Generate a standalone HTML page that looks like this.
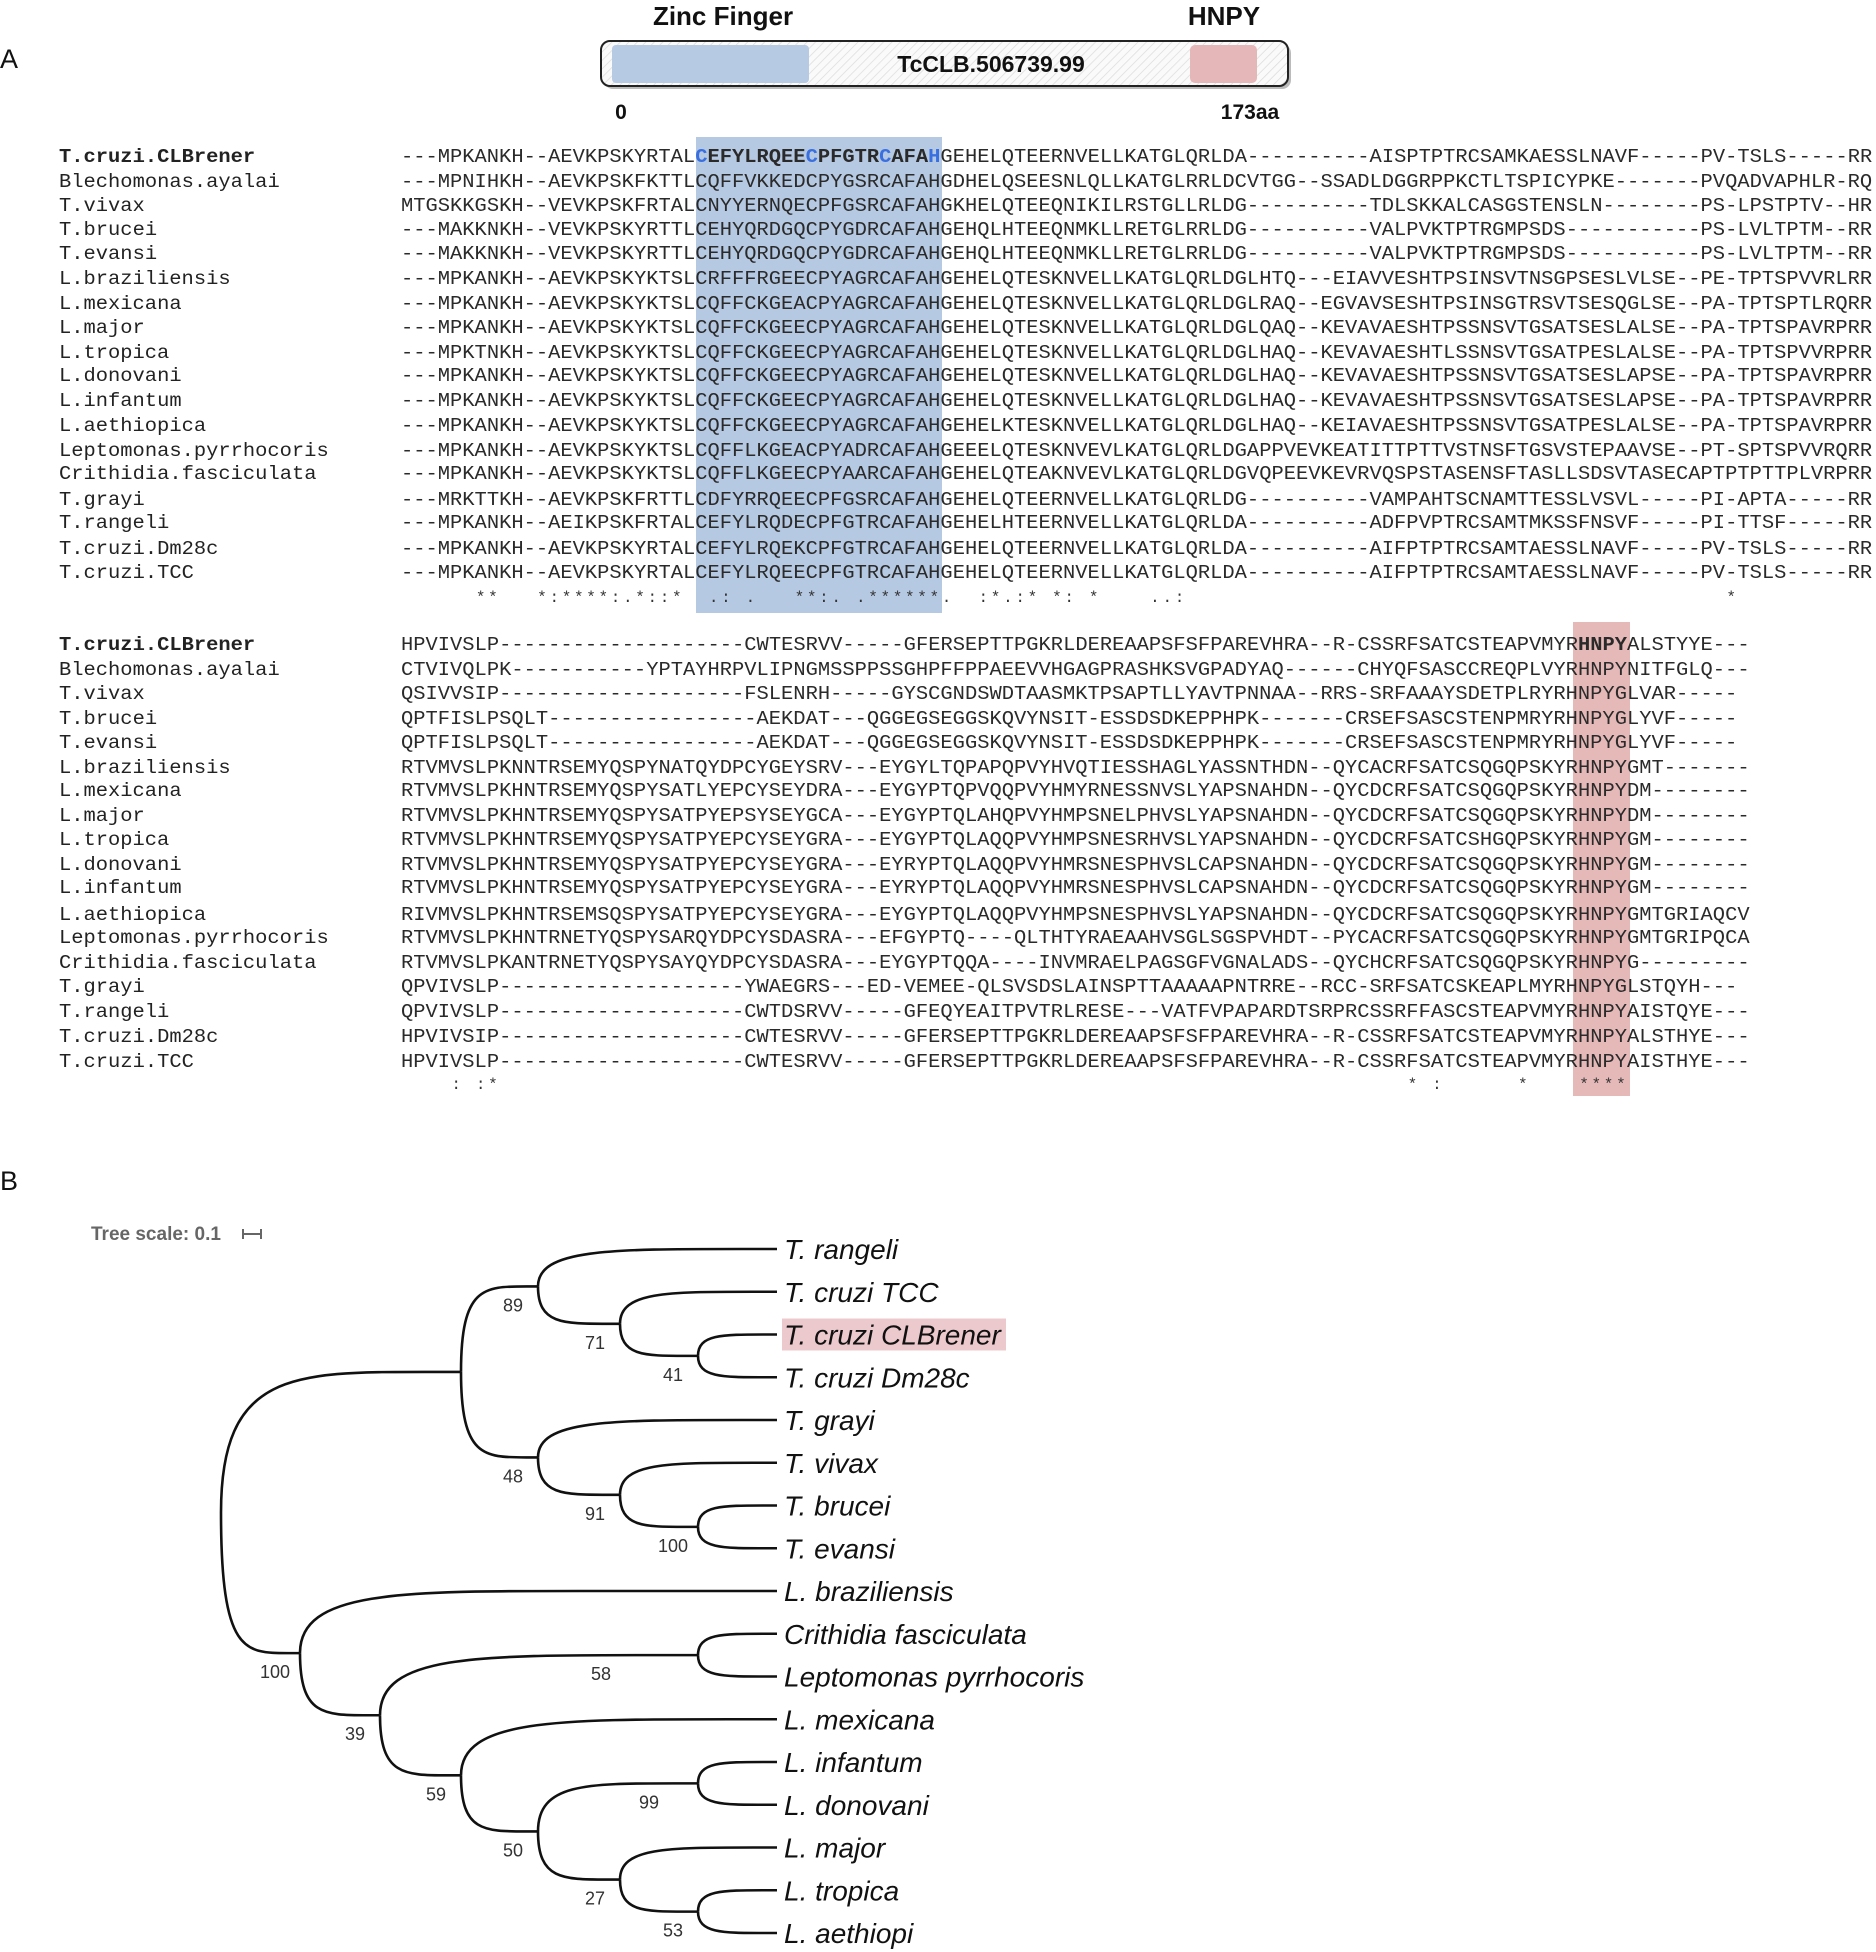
<!DOCTYPE html>
<html><head><meta charset="utf-8">
<style>
html,body{margin:0;padding:0;background:#fff;}
svg{display:block;}
.seq{font-family:"Liberation Mono",monospace;font-size:19px;fill:#2a2a2a;}
.nm{font-family:"Liberation Mono",monospace;font-size:19px;fill:#222;}
.leaf{font-family:"Liberation Sans",sans-serif;font-style:italic;font-size:28px;fill:#111;}
.bs{font-family:"Liberation Sans",sans-serif;font-size:18px;fill:#333;}
.cons{font-family:"Liberation Mono",monospace;font-size:16px;fill:#333;}
</style></head>
<body>
<svg id="fig" xmlns="http://www.w3.org/2000/svg" width="1876" height="1952" viewBox="0 0 1876 1952">
<defs>
<pattern id="hatch" width="6" height="6" patternUnits="userSpaceOnUse" patternTransform="rotate(45)">
<rect width="6" height="6" fill="#fafafa"/><line x1="0" y1="0" x2="0" y2="6" stroke="#dcdcdc" stroke-width="1.5"/>
</pattern>
</defs>
<text x="0" y="68" font-family="Liberation Sans, sans-serif" font-size="27" fill="#111">A</text>
<text x="0" y="1190" font-family="Liberation Sans, sans-serif" font-size="27" fill="#111">B</text>
<g>
<text x="723" y="25" text-anchor="middle" font-family="Liberation Sans, sans-serif" font-weight="bold" font-size="26" fill="#111">Zinc Finger</text>
<text x="1224" y="25" text-anchor="middle" font-family="Liberation Sans, sans-serif" font-weight="bold" font-size="26" fill="#111">HNPY</text>
<rect x="604" y="44" width="687" height="45" rx="9" fill="#bbb"/>
<rect x="601" y="41" width="687" height="45" rx="9" fill="url(#hatch)" stroke="#222" stroke-width="2"/>
<rect x="612" y="45" width="197" height="38" rx="4" fill="#b6cae3"/>
<rect x="1190" y="45" width="67" height="38" rx="5" fill="#e6b7b8"/>
<text x="991" y="72" text-anchor="middle" font-family="Liberation Sans, sans-serif" font-weight="bold" font-size="23" fill="#111">TcCLB.506739.99</text>
<text x="621" y="119" text-anchor="middle" font-family="Liberation Sans, sans-serif" font-weight="bold" font-size="21" fill="#111">0</text>
<text x="1250" y="119" text-anchor="middle" font-family="Liberation Sans, sans-serif" font-weight="bold" font-size="21" fill="#111">173aa</text>
</g>
<rect x="696" y="137" width="246" height="476" fill="#b6c9e2"/>
<rect x="1573" y="622" width="57" height="474" fill="#e6b9b9"/>
<g id="aln"></g>
<g id="tree"></g>
</svg>
<script>
const names = ["T.cruzi.CLBrener","Blechomonas.ayalai","T.vivax","T.brucei","T.evansi","L.braziliensis","L.mexicana","L.major","L.tropica","L.donovani","L.infantum","L.aethiopica","Leptomonas.pyrrhocoris","Crithidia.fasciculata","T.grayi","T.rangeli","T.cruzi.Dm28c","T.cruzi.TCC"];
const block1 = [
"---MPKANKH--AEVKPSKYRTALCEFYLRQEECPFGTRCAFAHGEHELQTEERNVELLKATGLQRLDA----------AISPTPTRCSAMKAESSLNAVF-----PV-TSLS-----RR",
"---MPNIHKH--AEVKPSKFKTTLCQFFVKKEDCPYGSRCAFAHGDHELQSEESNLQLLKATGLRRLDCVTGG--SSADLDGGRPPKCTLTSPICYPKE-------PVQADVAPHLR-RQ",
"MTGSKKGSKH--VEVKPSKFRTALCNYYERNQECPFGSRCAFAHGKHELQTEEQNIKILRSTGLLRLDG----------TDLSKKALCASGSTENSLN--------PS-LPSTPTV--HR",
"---MAKKNKH--VEVKPSKYRTTLCEHYQRDGQCPYGDRCAFAHGEHQLHTEEQNMKLLRETGLRRLDG----------VALPVKTPTRGMPSDS-----------PS-LVLTPTM--RR",
"---MAKKNKH--VEVKPSKYRTTLCEHYQRDGQCPYGDRCAFAHGEHQLHTEEQNMKLLRETGLRRLDG----------VALPVKTPTRGMPSDS-----------PS-LVLTPTM--RR",
"---MPKANKH--AEVKPSKYKTSLCRFFFRGEECPYAGRCAFAHGEHELQTESKNVELLKATGLQRLDGLHTQ---EIAVVESHTPSINSVTNSGPSESLVLSE--PE-TPTSPVVRLRR",
"---MPKANKH--AEVKPSKYKTSLCQFFCKGEACPYAGRCAFAHGEHELQTESKNVELLKATGLQRLDGLRAQ--EGVAVSESHTPSINSGTRSVTSESQGLSE--PA-TPTSPTLRQRR",
"---MPKANKH--AEVKPSKYKTSLCQFFCKGEECPYAGRCAFAHGEHELQTESKNVELLKATGLQRLDGLQAQ--KEVAVAESHTPSSNSVTGSATSESLALSE--PA-TPTSPAVRPRR",
"---MPKTNKH--AEVKPSKYKTSLCQFFCKGEECPYAGRCAFAHGEHELQTESKNVELLKATGLQRLDGLHAQ--KEVAVAESHTLSSNSVTGSATPESLALSE--PA-TPTSPVVRPRR",
"---MPKANKH--AEVKPSKYKTSLCQFFCKGEECPYAGRCAFAHGEHELQTESKNVELLKATGLQRLDGLHAQ--KEVAVAESHTPSSNSVTGSATSESLAPSE--PA-TPTSPAVRPRR",
"---MPKANKH--AEVKPSKYKTSLCQFFCKGEECPYAGRCAFAHGEHELQTESKNVELLKATGLQRLDGLHAQ--KEVAVAESHTPSSNSVTGSATSESLAPSE--PA-TPTSPAVRPRR",
"---MPKANKH--AEVKPSKYKTSLCQFFCKGEECPYAGRCAFAHGEHELKTESKNVELLKATGLQRLDGLHAQ--KEIAVAESHTPSSNSVTGSATPESLALSE--PA-TPTSPAVRPRR",
"---MPKANKH--AEVKPSKYKTSLCQFFLKGEACPYADRCAFAHGEEELQTESKNVEVLKATGLQRLDGAPPVEVKEATITTPTTVSTNSFTGSVSTEPAAVSE--PT-SPTSPVVRQRR",
"---MPKANKH--AEVKPSKYKTSLCQFFLKGEECPYAARCAFAHGEHELQTEAKNVEVLKATGLQRLDGVQPEEVKEVRVQSPSTASENSFTASLLSDSVTASECAPTPTPTTPLVRPRR",
"---MRKTTKH--AEVKPSKFRTTLCDFYRRQEECPFGSRCAFAHGEHELQTEERNVELLKATGLQRLDG----------VAMPAHTSCNAMTTESSLVSVL-----PI-APTA-----RR",
"---MPKANKH--AEIKPSKFRTALCEFYLRQDECPFGTRCAFAHGEHELHTEERNVELLKATGLQRLDA----------ADFPVPTRCSAMTMKSSFNSVF-----PI-TTSF-----RR",
"---MPKANKH--AEVKPSKYRTALCEFYLRQEKCPFGTRCAFAHGEHELQTEERNVELLKATGLQRLDA----------AIFPTPTRCSAMTAESSLNAVF-----PV-TSLS-----RR",
"---MPKANKH--AEVKPSKYRTALCEFYLRQEECPFGTRCAFAHGEHELQTEERNVELLKATGLQRLDA----------AIFPTPTRCSAMTAESSLNAVF-----PV-TSLS-----RR"];
const block2 = [
"HPVIVSLP--------------------CWTESRVV-----GFERSEPTTPGKRLDEREAAPSFSFPAREVHRA--R-CSSRFSATCSTEAPVMYRHNPYALSTYYE---",
"CTVIVQLPK-----------YPTAYHRPVLIPNGMSSPPSSGHPFFPPAEEVVHGAGPRASHKSVGPADYAQ------CHYQFSASCCREQPLVYRHNPYNITFGLQ---",
"QSIVVSIP--------------------FSLENRH-----GYSCGNDSWDTAASMKTPSAPTLLYAVTPNNAA--RRS-SRFAAAYSDETPLRYRHNPYGLVAR-----",
"QPTFISLPSQLT-----------------AEKDAT---QGGEGSEGGSKQVYNSIT-ESSDSDKEPPHPK-------CRSEFSASCSTENPMRYRHNPYGLYVF-----",
"QPTFISLPSQLT-----------------AEKDAT---QGGEGSEGGSKQVYNSIT-ESSDSDKEPPHPK-------CRSEFSASCSTENPMRYRHNPYGLYVF-----",
"RTVMVSLPKNNTRSEMYQSPYNATQYDPCYGEYSRV---EYGYLTQPAPQPVYHVQTIESSHAGLYASSNTHDN--QYCACRFSATCSQGQPSKYRHNPYGMT-------",
"RTVMVSLPKHNTRSEMYQSPYSATLYEPCYSEYDRA---EYGYPTQPVQQPVYHMYRNESSNVSLYAPSNAHDN--QYCDCRFSATCSQGQPSKYRHNPYDM--------",
"RTVMVSLPKHNTRSEMYQSPYSATPYEPSYSEYGCA---EYGYPTQLAHQPVYHMPSNELPHVSLYAPSNAHDN--QYCDCRFSATCSQGQPSKYRHNPYDM--------",
"RTVMVSLPKHNTRSEMYQSPYSATPYEPCYSEYGRA---EYGYPTQLAQQPVYHMPSNESRHVSLYAPSNAHDN--QYCDCRFSATCSHGQPSKYRHNPYGM--------",
"RTVMVSLPKHNTRSEMYQSPYSATPYEPCYSEYGRA---EYRYPTQLAQQPVYHMRSNESPHVSLCAPSNAHDN--QYCDCRFSATCSQGQPSKYRHNPYGM--------",
"RTVMVSLPKHNTRSEMYQSPYSATPYEPCYSEYGRA---EYRYPTQLAQQPVYHMRSNESPHVSLCAPSNAHDN--QYCDCRFSATCSQGQPSKYRHNPYGM--------",
"RIVMVSLPKHNTRSEMSQSPYSATPYEPCYSEYGRA---EYGYPTQLAQQPVYHMPSNESPHVSLYAPSNAHDN--QYCDCRFSATCSQGQPSKYRHNPYGMTGRIAQCV",
"RTVMVSLPKHNTRNETYQSPYSARQYDPCYSDASRA---EFGYPTQ----QLTHTYRAEAAHVSGLSGSPVHDT--PYCACRFSATCSQGQPSKYRHNPYGMTGRIPQCA",
"RTVMVSLPKANTRNETYQSPYSAYQYDPCYSDASRA---EYGYPTQQA----INVMRAELPAGSGFVGNALADS--QYCHCRFSATCSQGQPSKYRHNPYG---------",
"QPVIVSLP--------------------YWAEGRS---ED-VEMEE-QLSVSDSLAINSPTTAAAAAPNTRRE--RCC-SRFSATCSKEAPLMYRHNPYGLSTQYH---",
"QPVIVSLP--------------------CWTDSRVV-----GFEQYEAITPVTRLRESE---VATFVPAPARDTSRPRCSSRFFASCSTEAPVMYRHNPYAISTQYE---",
"HPVIVSIP--------------------CWTESRVV-----GFERSEPTTPGKRLDEREAAPSFSFPAREVHRA--R-CSSRFSATCSTEAPVMYRHNPYALSTHYE---",
"HPVIVSLP--------------------CWTESRVV-----GFERSEPTTPGKRLDEREAAPSFSFPAREVHRA--R-CSSRFSATCSTEAPVMYRHNPYAISTHYE---"];
const cons1 = "      **   *:****:.*::*  .: .   **:. .******.  :*.:* *: *    ..:                                            *";
const cons2 = "    : :*                                                                          * :      *    ****";
const rowY1 = [156,181,205,229,253,278,303,327,352,375,400,425,450,473,499,522,548,572];
const rowY2 = [644,669,693,718,742,767,790,815,839,864,887,914,937,962,986,1011,1036,1061];

const NS="http://www.w3.org/2000/svg";
const CW=12.26, X0=401, NX=59;
const aln=document.getElementById('aln');
function txt(parent,x,y,s,cls,extra){
  const t=document.createElementNS(NS,'text');
  t.setAttribute('x',x);t.setAttribute('y',y);
  if(cls)t.setAttribute('class',cls);
  if(extra)for(const k in extra)t.setAttribute(k,extra[k]);
  t.textContent=s;parent.appendChild(t);return t;
}
function seg(y,s,start,extra){
  return txt(aln,X0+start*CW,y,s,'seq',Object.assign({textLength:(s.length*CW).toFixed(1),lengthAdjust:'spacingAndGlyphs'},extra||{}));
}
function drawBlock(block,rowY,bi){
  block.forEach((s,i)=>{
    const y=rowY[i]+6;
    const n=txt(aln,NX,y,names[i],'nm',{textLength:(names[i].length*CW).toFixed(1),lengthAdjust:'spacingAndGlyphs'});
    if(i===0){n.setAttribute('font-weight','bold');n.setAttribute('font-family','Liberation Sans, sans-serif');}
    
    
    if(i===0 && bi===1){
      seg(y,s.slice(0,24),0);
      const t=seg(y,'',24,{'font-family':'Liberation Sans, sans-serif','font-weight':'bold','font-size':'18','textLength':(20*CW).toFixed(1)});
      for(const ch of s.slice(24,44)){const sp=document.createElementNS(NS,'tspan');sp.textContent=ch;if(ch==='C'||ch==='H')sp.setAttribute('fill','#3a6fe0');t.appendChild(sp);}
      seg(y,s.slice(44),44);
    } else if(i===0 && bi===2){
      const k=s.indexOf('HNPY');
      seg(y,s.slice(0,k),0);
      seg(y,'HNPY',k,{'font-family':'Liberation Sans, sans-serif','font-weight':'bold','font-size':'18'});
      seg(y,s.slice(k+4),k+4);
    } else {
      seg(y,s,0);
    }
  });
}
drawBlock(block1,rowY1,1);
drawBlock(block2,rowY2,2);
function drawCons(str,y,name){
  const g=document.createElementNS(NS,'g');
  
  
  aln.appendChild(g);
  [...str].forEach((ch,i)=>{ if(ch!==' ') txt(g,X0+i*CW+CW/2,y,ch,'cons',{'text-anchor':'middle'}); });
}
drawCons(cons1,602,'conservation-row-1');
drawCons(cons2,1089,'conservation-row-2');

// ---- Tree ----
const leafNames = ["T. rangeli","T. cruzi TCC","T. cruzi CLBrener","T. cruzi Dm28c","T. grayi","T. vivax","T. brucei","T. evansi","L. braziliensis","Crithidia fasciculata","Leptomonas pyrrhocoris","L. mexicana","L. infantum","L. donovani","L. major","L. tropica","L. aethiopi"];
const nodeIds     = ["n41","n71","n89","n100b","n91","n48","tryp","n53","n27","n99","n50","n59","n58","n39","leish","root"];
const nodeDepth   = [6,5,4,6,5,4,3,6,5,6,4,3,6,2,1,0];
const nodeKids    = [[2,3],[1,"n41"],[0,"n71"],[6,7],[5,"n100b"],[4,"n91"],["n89","n48"],[15,16],[14,"n53"],[12,13],["n99","n27"],[11,"n50"],[9,10],["n58","n59"],[8,"n39"],["tryp","leish"]];
const nodeSupport = ["41","71","89","100","91","48","","53","27","99","50","59","58","39","100",""];
const depthX=[221,300,380,461,538,620,698];
const LEAF_X=777, LEAF_Y0=1249, LEAF_DY=42.75;
const tree=document.getElementById('tree');
const pos={};
leafNames.forEach((n,i)=>{pos['L'+i]={x:LEAF_X,y:LEAF_Y0+i*LEAF_DY};});
function key(k){return typeof k==='number'?'L'+k:k;}
nodeIds.forEach((id,i)=>{
  const ys=nodeKids[i].map(k=>pos[key(k)].y);
  pos[id]={x:depthX[nodeDepth[i]],y:(ys[0]+ys[1])/2};
});
const hl=document.createElementNS(NS,'rect');
hl.setAttribute('x',782);hl.setAttribute('y',LEAF_Y0+2*LEAF_DY-16);hl.setAttribute('width',224);hl.setAttribute('height',32);hl.setAttribute('fill','#ecc9cc');


tree.appendChild(hl);
nodeIds.forEach((id,i)=>{
  const p=pos[id];
  nodeKids[i].forEach(k=>{
    const c=pos[key(k)];
    const dx=c.x-p.x; const cc=Math.min(dx*0.85,280);
    const path=document.createElementNS(NS,'path');
    path.setAttribute('d',`M${p.x},${p.y} C${p.x},${c.y} ${p.x+cc*0.35},${c.y} ${p.x+cc},${c.y} L${c.x},${c.y}`);
    path.setAttribute('fill','none');path.setAttribute('stroke','#111');path.setAttribute('stroke-width','2.6');
    
    
    tree.appendChild(path);
  });
  if(nodeSupport[i]){
    const off = id==='n58'?-97:(id==='n99'?-49:-25);
    const t=txt(tree,p.x+off,p.y+25,nodeSupport[i],'bs',{'text-anchor':'middle'});
    
    
  }
});
leafNames.forEach((n,i)=>{
  const t=txt(tree,784,pos['L'+i].y+10,n,'leaf');
  
  
});
const ts=txt(tree,91,1240,'Tree scale: 0.1',null,{'font-family':'Liberation Sans, sans-serif','font-weight':'bold','font-size':'19','fill':'#666'});


const sb=document.createElementNS(NS,'path');
sb.setAttribute('d','M243,1234 L261,1234 M243,1229 L243,1239 M261,1229 L261,1239');
sb.setAttribute('stroke','#666');sb.setAttribute('stroke-width','2');


tree.appendChild(sb);
</script>
</body></html>
